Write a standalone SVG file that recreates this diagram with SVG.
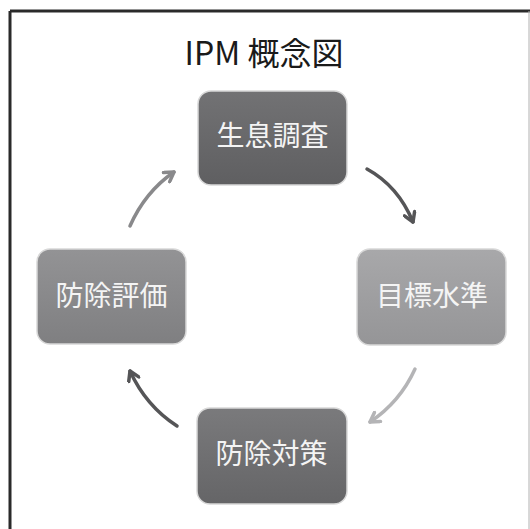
<svg xmlns="http://www.w3.org/2000/svg" width="530" height="529" viewBox="0 0 530 529">
<style>
.lbl{font-family:"Noto Sans CJK JP","Noto Sans",sans-serif;font-size:28px;fill:#f4f4f4;text-anchor:middle}
.ttl{font-family:"Noto Sans CJK JP","Noto Sans",sans-serif;font-size:32px;fill:#1a1a1a;text-anchor:middle}
.box{stroke:#d8d8d8;stroke-width:1.5}
.arr{fill:none;stroke-width:3.5;stroke-linecap:round}
.dark{stroke:#555557}
.mid{stroke:#89898b}
.light{stroke:#b4b4b6}
</style>
<defs>
<linearGradient id="gTop" x1="0" y1="0" x2="0" y2="1"><stop offset="0" stop-color="#727274"/><stop offset="1" stop-color="#5f5f61"/></linearGradient>
<linearGradient id="gRight" x1="0" y1="0" x2="0" y2="1"><stop offset="0" stop-color="#a8a8aa"/><stop offset="1" stop-color="#959597"/></linearGradient>
<linearGradient id="gLeft" x1="0" y1="0" x2="0" y2="1"><stop offset="0" stop-color="#939395"/><stop offset="1" stop-color="#7f7f81"/></linearGradient>
<linearGradient id="gBottom" x1="0" y1="0" x2="0" y2="1"><stop offset="0" stop-color="#7a7a7c"/><stop offset="1" stop-color="#656567"/></linearGradient>
<marker id="mDark" viewBox="0 0 14 14" refX="11" refY="7" markerWidth="14" markerHeight="14" markerUnits="userSpaceOnUse" orient="auto"><path d="M2,1.5 L11,7 L2,12.5" fill="none" stroke="#555557" stroke-width="3.5" stroke-linecap="round" stroke-linejoin="round"/></marker>
<marker id="mMid" viewBox="0 0 14 14" refX="11" refY="7" markerWidth="14" markerHeight="14" markerUnits="userSpaceOnUse" orient="auto"><path d="M2,1.5 L11,7 L2,12.5" fill="none" stroke="#89898b" stroke-width="3.5" stroke-linecap="round" stroke-linejoin="round"/></marker>
<marker id="mLight" viewBox="0 0 14 14" refX="11" refY="7" markerWidth="14" markerHeight="14" markerUnits="userSpaceOnUse" orient="auto"><path d="M2,1.5 L11,7 L2,12.5" fill="none" stroke="#b4b4b6" stroke-width="3.5" stroke-linecap="round" stroke-linejoin="round"/></marker>
</defs>
<rect width="530" height="529" fill="#ffffff"/>
<g id="frame">
<line x1="10" y1="11" x2="10" y2="529" stroke="#2a2a2a" stroke-width="3"/>
<line x1="10" y1="11" x2="530" y2="11" stroke="#2a2a2a" stroke-width="3"/>
<line x1="529" y1="11" x2="529" y2="529" stroke="#b0b0b0" stroke-width="1"/>
</g>
<text id="title" class="ttl" x="264" y="65">IPM 概念図</text>
<g id="connectors">
<path class="arr dark" d="M367,169 Q398,186 413,222" marker-end="url(#mDark)"/>
<path class="arr light" d="M415,369 Q400,402 370,422" marker-end="url(#mLight)"/>
<path class="arr dark" d="M177,426 Q146,406 130,371" marker-end="url(#mDark)"/>
<path class="arr mid" d="M130,226 Q145,192 174,172" marker-end="url(#mMid)"/>
</g>
<g id="node-survey">
<rect class="box" x="198" y="91" width="149" height="94" rx="13" fill="url(#gTop)"/>
<text class="lbl" x="272.5" y="146">生息調査</text>
</g>
<g id="node-target">
<rect class="box" x="357" y="249" width="149" height="96" rx="13" fill="url(#gRight)"/>
<text class="lbl" x="432" y="306">目標水準</text>
</g>
<g id="node-control">
<rect class="box" x="197" y="408" width="150" height="96" rx="13" fill="url(#gBottom)"/>
<text class="lbl" x="271.5" y="464">防除対策</text>
</g>
<g id="node-evaluation">
<rect class="box" x="37" y="249" width="149" height="95" rx="13" fill="url(#gLeft)"/>
<text class="lbl" x="111.5" y="306">防除評価</text>
</g>
</svg>
